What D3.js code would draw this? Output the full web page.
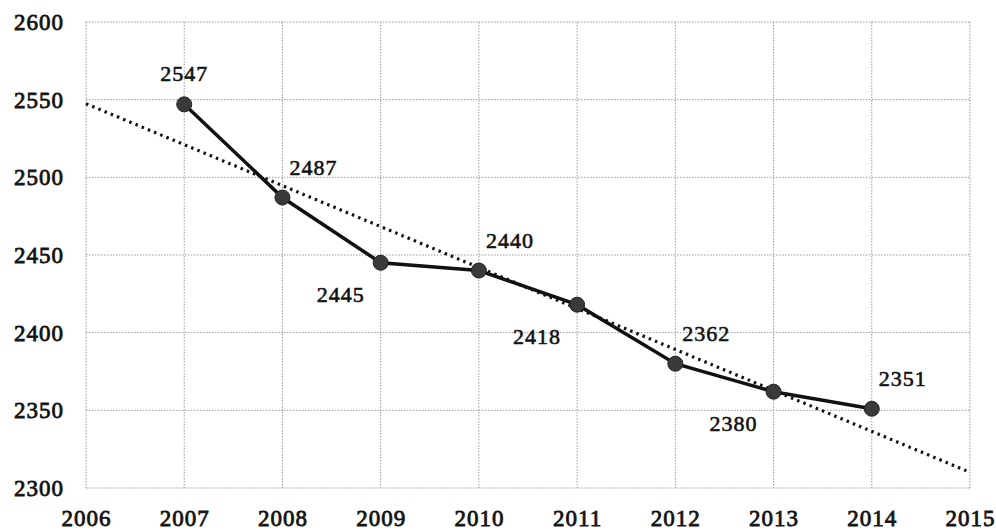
<!DOCTYPE html>
<html><head><meta charset="utf-8">
<script src="https://cdn.jsdelivr.net/npm/d3@7"></script>
<style>
html,body{margin:0;padding:0;background:#fff;}
svg{display:block;}
text{font-family:"Liberation Serif","Times New Roman",serif;fill:#111;}
</style></head>
<body><svg id="c" width="996" height="530"></svg>
<script>
const years = [2007, 2008, 2009, 2010, 2011, 2012, 2013, 2014];
const values = [2547, 2487, 2445, 2440, 2418, 2380, 2362, 2351];
const labels = ["2547", "2487", "2445", "2440", "2418", "2362", "2380", "2351"];
const labelSide = ["above", "right", "left", "right", "left", "right", "left", "right"];
const xTicks = [2006, 2007, 2008, 2009, 2010, 2011, 2012, 2013, 2014, 2015];
const yTicks = [2300, 2350, 2400, 2450, 2500, 2550, 2600];
const trendYears = [2006, 2015];
const trendValues = [2547.4, 2310.1];

const svg = d3.select("#c");
const L = 86, R = 970, T = 22, B = 488;
const x = d3.scaleLinear().domain([2006, 2015]).range([L, R]);
const y = d3.scaleLinear().domain([2300, 2600]).range([B, T]);

// grid
const grid = svg.append("g");
grid.selectAll("line.h").data(yTicks).join("line")
  .attr("x1", L).attr("x2", R).attr("y1", d => y(d)).attr("y2", d => y(d))
  .attr("stroke", "#9a9a9a").attr("stroke-width", 1).attr("stroke-dasharray", "1.5,1.5");
grid.selectAll("line.v").data(xTicks).join("line")
  .attr("y1", T).attr("y2", B).attr("x1", d => x(d)).attr("x2", d => x(d))
  .attr("stroke", "#9a9a9a").attr("stroke-width", 1).attr("stroke-dasharray", "1.5,1.5");

const tStyle = sel => sel.attr("font-size", 23).attr("letter-spacing", "1px")
  .attr("font-family", "Liberation Serif").attr("font-weight", "normal")
  .attr("fill", "#151515").attr("stroke", "#151515").attr("stroke-width", 0.8);

// axes (labels only)
const yAxis = d3.axisLeft(y).tickValues(yTicks).tickSize(0).tickPadding(22).tickFormat(d3.format("d"));
const gy = svg.append("g").attr("transform", `translate(${L},0)`).call(yAxis);
gy.select(".domain").remove();
gy.selectAll("text").call(tStyle);

const xAxis = d3.axisBottom(x).tickValues(xTicks).tickSize(0).tickPadding(22).tickFormat(d3.format("d"));
const gx = svg.append("g").attr("transform", `translate(0,${B})`).call(xAxis);
gx.select(".domain").remove();
gx.selectAll("text").call(tStyle);

// trend line
const trend = trendYears.map((t, i) => [t, trendValues[i]]);
svg.append("path").datum(trend)
  .attr("d", d3.line().x(d => x(d[0])).y(d => y(d[1])))
  .attr("fill", "none").attr("stroke", "#111").attr("stroke-width", 3.2)
  .attr("stroke-dasharray", "2.5,4.2");

// data line
const pts = years.map((t, i) => [t, values[i]]);
svg.append("path").datum(pts)
  .attr("d", d3.line().x(d => x(d[0])).y(d => y(d[1])))
  .attr("fill", "none").attr("stroke", "#111").attr("stroke-width", 3.5);

svg.selectAll("circle.pt").data(pts).join("circle")
  .attr("cx", d => x(d[0])).attr("cy", d => y(d[1])).attr("r", 7.5)
  .attr("fill", "#3a3a3a").attr("stroke", "#222").attr("stroke-width", 1);

// labels
const off = { above: [0, -31], right: [31, -30], left: [-40, 32] };
svg.selectAll("text.lbl").data(pts).join("text")
  .attr("x", (d, i) => x(d[0]) + off[labelSide[i]][0])
  .attr("y", (d, i) => y(d[1]) + off[labelSide[i]][1])
  .attr("text-anchor", "middle").attr("dominant-baseline", "central")
  .call(tStyle).attr("font-size", 22).attr("stroke-width", 0.6)
  .text((d, i) => labels[i]);
</script></body></html>
